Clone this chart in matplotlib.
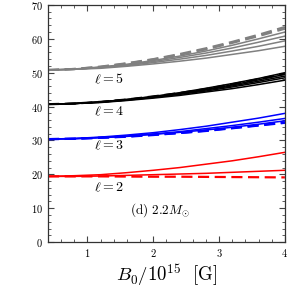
import matplotlib
matplotlib.use('Agg')
import matplotlib.pyplot as plt
import matplotlib.ticker as tck

plt.rcParams['mathtext.fontset'] = 'cm'
plt.rcParams['font.family'] = 'serif'
plt.rcParams['font.serif'] = ['DejaVu Serif']

B0 = [0.4, 0.8, 1.2, 1.6, 2.0, 2.4, 2.8, 3.2, 3.6, 4.0]

# l = 2 (red)
red_solid = [
    [19.4, 19.6, 19.9, 20.5, 21.2, 22.0, 23.0, 24.0, 25.2, 26.5],
    [19.4, 19.4, 19.5, 19.7, 19.9, 20.1, 20.3, 20.6, 20.9, 21.2],
]
red_dash = [
    [19.4, 19.4, 19.4, 19.35, 19.3, 19.3, 19.25, 19.2, 19.15, 19.1],
]
# l = 3 (blue)
blue_solid = [
    [30.4, 30.6, 31.0, 31.6, 32.3, 33.2, 34.2, 35.4, 36.6, 38.0],
    [30.4, 30.55, 30.9, 31.3, 31.9, 32.6, 33.5, 34.4, 35.4, 36.5],
    [30.4, 30.5, 30.8, 31.2, 31.8, 32.4, 33.1, 33.9, 34.8, 35.8],
]
blue_dash = [
    [30.4, 30.5, 30.8, 31.2, 31.7, 32.2, 32.9, 33.7, 34.5, 35.4],
    [30.4, 30.5, 30.8, 31.1, 31.6, 32.2, 32.8, 33.6, 34.4, 35.2],
]
# l = 4 (black)
black_solid = [
    [40.7, 40.9, 41.4, 42.1, 43.0, 44.1, 45.4, 46.8, 48.3, 50.0],
    [40.7, 40.9, 41.4, 42.1, 42.9, 43.9, 45.1, 46.4, 47.9, 49.5],
    [40.7, 40.9, 41.3, 42.0, 42.8, 43.8, 44.9, 46.1, 47.5, 49.0],
    [40.7, 40.9, 41.3, 41.9, 42.7, 43.6, 44.6, 45.8, 47.1, 48.5],
    [40.7, 40.9, 41.2, 41.8, 42.5, 43.3, 44.3, 45.3, 46.5, 47.8],
]
black_dash = [
    [40.7, 40.9, 41.4, 42.1, 43.0, 44.0, 45.2, 46.6, 48.1, 49.7],
]
# l = 5 (gray)
gray_solid = [
    [50.8, 51.1, 51.7, 52.5, 53.6, 54.9, 56.4, 58.1, 60.0, 62.0],
    [50.8, 51.0, 51.6, 52.3, 53.3, 54.5, 55.8, 57.3, 59.0, 60.8],
    [50.8, 51.0, 51.5, 52.1, 53.0, 54.0, 55.1, 56.4, 57.8, 59.4],
    [50.8, 51.0, 51.3, 51.9, 52.6, 53.4, 54.3, 55.4, 56.5, 57.8],
]
gray_dash = [
    [50.8, 51.1, 51.8, 52.8, 54.0, 55.5, 57.2, 59.1, 61.2, 63.5],
    [50.8, 51.1, 51.7, 52.7, 53.9, 55.3, 56.9, 58.8, 60.8, 63.0],
]

groups = [
    (red_solid, red_dash, '#ff0000'),
    (blue_solid, blue_dash, '#0000ff'),
    (black_solid, black_dash, 'black'),
    (gray_solid, gray_dash, '#808080'),
]

labels = [r'$\ell=2$', r'$\ell=3$', r'$\ell=4$', r'$\ell=5$']
label_y = [16.2, 28.6, 38.6, 48.0]

fig = plt.figure(figsize=(2.91, 2.91), dpi=100)
ax = fig.add_axes([0.165, 0.168, 0.814, 0.815])

for solid, dash, col in groups:
    for ys in solid:
        ax.plot(B0, ys, color=col, lw=1.1)
    for ys in dash:
        ax.plot(B0, ys, color=col, lw=1.6, ls=(0, (5, 2.5)))

for lab, y in zip(labels, label_y):
    ax.text(1.33, y, lab, fontsize=10, ha='center', va='center')
ax.text(1.64, 9.3, r'$\mathrm{(d)}\ 2.2M_{\odot}$', fontsize=9.5,
        ha='left', va='center')

ax.set_xlim(0.4, 4)
ax.set_ylim(0, 70)
ax.xaxis.set_major_locator(tck.MultipleLocator(1))
ax.xaxis.set_minor_locator(tck.MultipleLocator(0.2))
ax.yaxis.set_major_locator(tck.MultipleLocator(10))
ax.yaxis.set_minor_locator(tck.MultipleLocator(2))
fmt = tck.FuncFormatter(lambda v, p: r'$%d$' % round(v))
ax.xaxis.set_major_formatter(fmt)
ax.yaxis.set_major_formatter(fmt)
ax.tick_params(which='both', direction='in', top=True, right=True,
               labelsize=7.5, color='#444444')
ax.tick_params(which='major', length=4, width=0.8)
ax.tick_params(which='minor', length=2, width=0.6)
for s in ax.spines.values():
    s.set_color('#333333')
    s.set_linewidth(0.9)
ax.set_xlabel(r'$B_0/10^{15}\ \ [\mathrm{G}]$', fontsize=13.5, labelpad=2)

fig.savefig('out.png', dpi=100)
